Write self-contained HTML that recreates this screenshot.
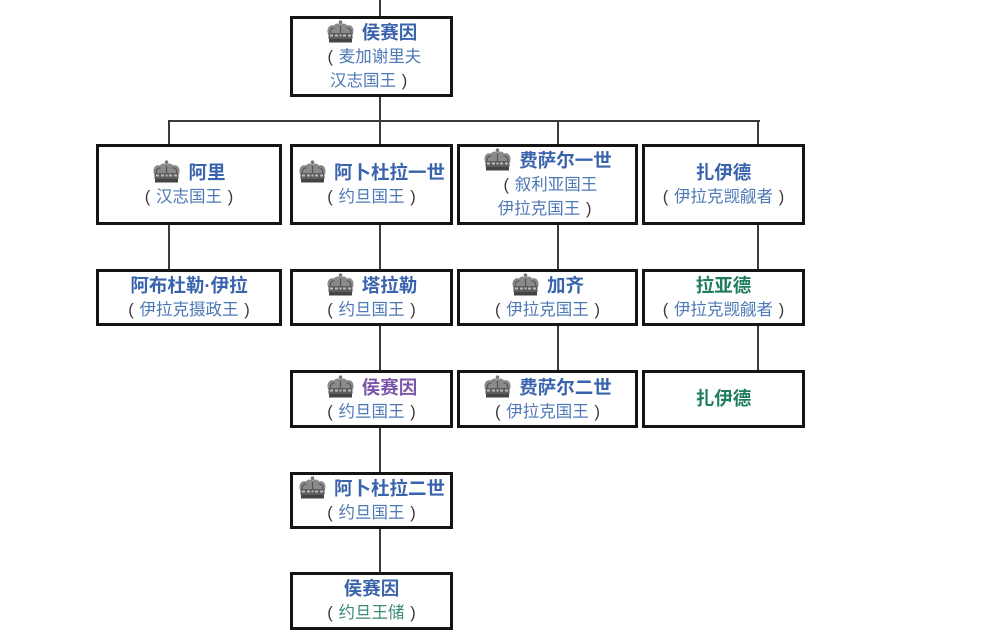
<!DOCTYPE html>
<html><head><meta charset="utf-8">
<style>
html,body{margin:0;padding:0;background:#fff;}
body{width:997px;height:631px;position:relative;overflow:hidden;font-family:"Liberation Sans","Noto Sans CJK SC",sans-serif;}
.b{position:absolute;box-sizing:border-box;border:3px solid #141414;background:#fff;display:flex;flex-direction:column;align-items:center;justify-content:center;text-align:center;}
.l{line-height:24px;white-space:nowrap;}
.n{font-weight:bold;font-size:18.5px;color:#3a63ad;}
.s{font-size:16.5px;color:#4d78b6;}
.p{color:#3a3a3a;display:inline-block;width:17px;text-align:center;font-family:"Liberation Sans",sans-serif;}
.pu{color:#7a55a8;}
.gr{color:#1f7d5e;}
.tl{color:#3a8a78;}
.h{position:absolute;background:#3a3a3a;height:2px;}
.v{position:absolute;background:#3a3a3a;width:2px;}
svg.c{width:29px;height:23px;vertical-align:-4px;margin-right:7px;}
</style></head><body>
<svg width="0" height="0" style="position:absolute">
<defs>
<symbol id="crown" viewBox="0 0 29 23">
<circle cx="14.5" cy="2.2" r="1.8" fill="#777"/>
<path d="M2 14 C0 8 4 4 8 5.5 C10 2.5 13 3.5 14.5 4.5 C16 3.5 19 2.5 21 5.5 C25 4 29 8 27 14 Z" fill="#8a8a8a"/>
<path d="M4.5 13 C3.5 10 6 7.5 8.5 8 M14.5 5.5 L14.5 13 M24.5 13 C25.5 10 23 7.5 20.5 8" stroke="#555" stroke-width="1.2" fill="none"/>
<rect x="2.5" y="13" width="24" height="6" fill="#5d5d5d"/>
<rect x="4" y="14.5" width="3" height="2" fill="#bbb"/>
<rect x="9" y="14.5" width="3" height="2" fill="#bbb"/>
<rect x="13.5" y="14.5" width="2" height="2" fill="#bbb"/>
<rect x="17" y="14.5" width="3" height="2" fill="#bbb"/>
<rect x="22" y="14.5" width="3" height="2" fill="#bbb"/>
<rect x="3" y="19" width="23" height="3.5" fill="#444"/>
</symbol>
</defs>
</svg>

<!-- connectors -->
<div class="v" style="left:379px;top:0;height:16px"></div>
<div class="v" style="left:379px;top:97px;height:24px"></div>
<div class="h" style="left:168px;top:120px;width:592px"></div>
<div class="v" style="left:168px;top:120px;height:25px"></div>
<div class="v" style="left:379px;top:120px;height:25px"></div>
<div class="v" style="left:557px;top:120px;height:25px"></div>
<div class="v" style="left:757px;top:120px;height:25px"></div>

<div class="v" style="left:168px;top:225px;height:44px"></div>
<div class="v" style="left:379px;top:225px;height:44px"></div>
<div class="v" style="left:557px;top:225px;height:44px"></div>
<div class="v" style="left:757px;top:225px;height:44px"></div>

<div class="v" style="left:379px;top:326px;height:44px"></div>
<div class="v" style="left:557px;top:326px;height:44px"></div>
<div class="v" style="left:757px;top:326px;height:44px"></div>

<div class="v" style="left:379px;top:428px;height:44px"></div>
<div class="v" style="left:379px;top:529px;height:43px"></div>

<!-- top box -->
<div class="b" style="left:290px;top:16px;width:163px;height:81px">
<div class="l n"><svg class="c"><use href="#crown"/></svg>侯赛因</div>
<div class="l s"><span class="p">(</span>麦加谢里夫</div>
<div class="l s">汉志国王<span class="p">)</span></div>
</div>

<!-- row 1 -->
<div class="b" style="left:96px;top:144px;width:186px;height:81px">
<div class="l n"><svg class="c"><use href="#crown"/></svg>阿里</div>
<div class="l s"><span class="p">(</span>汉志国王<span class="p">)</span></div>
</div>
<div class="b" style="left:290px;top:144px;width:163px;height:81px">
<div class="l n"><svg class="c"><use href="#crown"/></svg>阿卜杜拉一世</div>
<div class="l s"><span class="p">(</span>约旦国王<span class="p">)</span></div>
</div>
<div class="b" style="left:457px;top:144px;width:181px;height:81px">
<div class="l n"><svg class="c"><use href="#crown"/></svg>费萨尔一世</div>
<div class="l s"><span class="p">(</span>叙利亚国王</div>
<div class="l s">伊拉克国王<span class="p">)</span></div>
</div>
<div class="b" style="left:642px;top:144px;width:163px;height:81px">
<div class="l n">扎伊德</div>
<div class="l s"><span class="p">(</span>伊拉克觊觎者<span class="p">)</span></div>
</div>

<!-- row 2 -->
<div class="b" style="left:96px;top:269px;width:186px;height:57px">
<div class="l n">阿布杜勒·伊拉</div>
<div class="l s"><span class="p">(</span>伊拉克摄政王<span class="p">)</span></div>
</div>
<div class="b" style="left:290px;top:269px;width:163px;height:57px">
<div class="l n"><svg class="c"><use href="#crown"/></svg>塔拉勒</div>
<div class="l s"><span class="p">(</span>约旦国王<span class="p">)</span></div>
</div>
<div class="b" style="left:457px;top:269px;width:181px;height:57px">
<div class="l n"><svg class="c"><use href="#crown"/></svg>加齐</div>
<div class="l s"><span class="p">(</span>伊拉克国王<span class="p">)</span></div>
</div>
<div class="b" style="left:642px;top:269px;width:163px;height:57px">
<div class="l n gr">拉亚德</div>
<div class="l s"><span class="p">(</span>伊拉克觊觎者<span class="p">)</span></div>
</div>

<!-- row 3 -->
<div class="b" style="left:290px;top:370px;width:163px;height:58px">
<div class="l n pu"><svg class="c"><use href="#crown"/></svg>侯赛因</div>
<div class="l s"><span class="p">(</span>约旦国王<span class="p">)</span></div>
</div>
<div class="b" style="left:457px;top:370px;width:181px;height:58px">
<div class="l n"><svg class="c"><use href="#crown"/></svg>费萨尔二世</div>
<div class="l s"><span class="p">(</span>伊拉克国王<span class="p">)</span></div>
</div>
<div class="b" style="left:642px;top:370px;width:163px;height:58px">
<div class="l n gr">扎伊德</div>
</div>

<!-- row 4 -->
<div class="b" style="left:290px;top:472px;width:163px;height:57px">
<div class="l n"><svg class="c"><use href="#crown"/></svg>阿卜杜拉二世</div>
<div class="l s"><span class="p">(</span>约旦国王<span class="p">)</span></div>
</div>

<!-- row 5 -->
<div class="b" style="left:290px;top:572px;width:163px;height:58px">
<div class="l n">侯赛因</div>
<div class="l s tl"><span class="p">(</span>约旦王储<span class="p">)</span></div>
</div>

</body></html>
